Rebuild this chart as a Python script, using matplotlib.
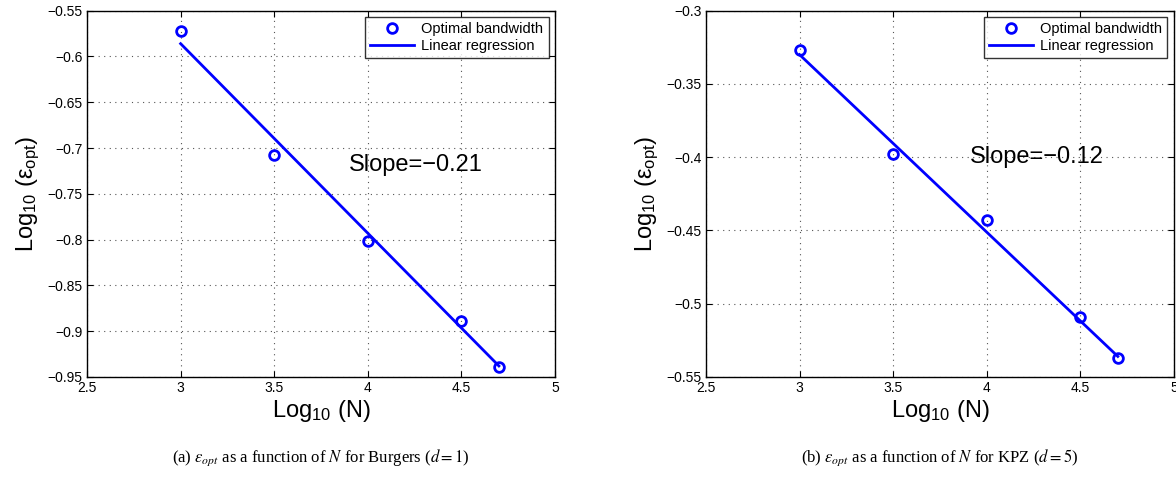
import matplotlib

matplotlib.use("Agg")
import matplotlib.pyplot as plt  # noqa: E402

plt.rcParams["font.family"] = ["Liberation Sans", "DejaVu Sans"]
plt.rcParams["mathtext.fontset"] = "custom"
plt.rcParams["mathtext.rm"] = "Liberation Sans"
plt.rcParams["mathtext.it"] = "Liberation Sans:italic"

# log10(N) sample points
log_n = [3.0, 3.5, 4.0, 4.5, 4.7]

# (a) Burgers, d = 1
burgers_eps = [-0.572, -0.708, -0.802, -0.889, -0.939]
burgers_fit_x = [3.0, 4.7]
burgers_fit_y = [-0.586, -0.938]
burgers_slope = "Slope=\u22120.21"

# (b) KPZ, d = 5
kpz_eps = [-0.327, -0.398, -0.443, -0.509, -0.537]
kpz_fit_x = [3.0, 4.7]
kpz_fit_y = [-0.330, -0.536]
kpz_slope = "Slope=\u22120.12"

x_ticks = [2.5, 3, 3.5, 4, 4.5, 5]
x_tick_labels = ["2.5", "3", "3.5", "4", "4.5", "5"]
burgers_yticks = [-0.95, -0.9, -0.85, -0.8, -0.75, -0.7, -0.65, -0.6, -0.55]
burgers_ylabels = ["\u22120.95", "\u22120.9", "\u22120.85", "\u22120.8", "\u22120.75",
                   "\u22120.7", "\u22120.65", "\u22120.6", "\u22120.55"]
kpz_yticks = [-0.55, -0.5, -0.45, -0.4, -0.35, -0.3]
kpz_ylabels = ["\u22120.55", "\u22120.5", "\u22120.45", "\u22120.4", "\u22120.35", "\u22120.3"]

captions = [
    r"(a) $\varepsilon_{opt}$ as a function of $N$ for Burgers ($d=1$)",
    r"(b) $\varepsilon_{opt}$ as a function of $N$ for KPZ ($d=5$)",
]

BLUE = (0, 0, 1)


def _panel(ax, y, fit_x, fit_y, yticks, ylabels, slope_txt, slope_pos):
    ax.plot(log_n, y, "o", ls="none", mfc="none", mec=BLUE, mew=2, ms=7,
            label="Optimal bandwidth", zorder=3)
    ax.plot(fit_x, fit_y, "-", color=BLUE, lw=2, label="Linear regression", zorder=2)
    ax.set_xlim(2.5, 5)
    ax.set_ylim(yticks[0], yticks[-1])
    ax.set_xticks(x_ticks)
    ax.set_xticklabels(x_tick_labels)
    ax.set_yticks(yticks)
    ax.set_yticklabels(ylabels)
    ax.tick_params(direction="in", top=True, right=True, length=4, width=0.8,
                   labelsize=10, pad=3)
    ax.grid(True, color="#555555", ls=(0, (1, 4)), lw=0.8)
    for s in ax.spines.values():
        s.set_linewidth(1.0)
    ax.set_xlabel(r"Log$_{10}$ (N)", fontsize=17, labelpad=2)
    ax.set_ylabel("Log$_{10}$ (\u03b5$_{\\mathrm{opt}}$)", fontsize=17, labelpad=4)
    ax.text(slope_pos[0], slope_pos[1], slope_txt, fontsize=17, va="center", ha="left")
    leg = ax.legend(loc="upper right", fontsize=10.5, frameon=True, fancybox=False,
                    edgecolor="black", borderaxespad=0.45, handlelength=3.0,
                    borderpad=0.35, labelspacing=0.2, handletextpad=0.5)
    leg.get_frame().set_linewidth(1.0)


fig = plt.figure(figsize=(11.76, 4.87), dpi=100)
ax1 = fig.add_axes([0.074, 0.226, 0.398, 0.752])
ax2 = fig.add_axes([0.6003, 0.226, 0.398, 0.752])

_panel(ax1, burgers_eps, burgers_fit_x, burgers_fit_y, burgers_yticks, burgers_ylabels,
       burgers_slope, (3.9, -0.718))
_panel(ax2, kpz_eps, kpz_fit_x, kpz_fit_y, kpz_yticks, kpz_ylabels,
       kpz_slope, (3.91, -0.400))

for ax, cap in zip((ax1, ax2), captions):
    bb = ax.get_position()
    fig.text((bb.x0 + bb.x1) / 2, 1 - 458 / 487, cap, ha="center", va="center",
             fontsize=12, family="Liberation Serif", math_fontfamily="stix")

fig.savefig("out.png", dpi=100)
